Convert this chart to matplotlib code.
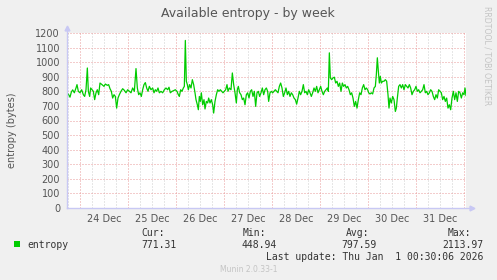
import numpy as np
import matplotlib.pyplot as plt

# hours since 24 Dec 00:00 and entropy readings [bytes]
hours = [
    -6.5, -5.67, -5.0, -4.33, -3.67, -2.83, -2.0, -1.5, -0.83, 0.0, 0.83, 1.67, 2.33, 3.0, 3.67,
    4.17, 4.83, 5.33, 6.0, 6.67, 7.33, 8.0, 8.67, 9.33, 10.0, 11.0, 12.0, 12.67, 13.67, 14.33,
    15.0, 15.67, 16.33, 17.0, 17.67, 18.33, 19.0, 19.67, 20.5, 21.33, 22.17, 23.0, 23.83, 24.67,
    25.5, 26.33, 27.17, 28.0, 28.67, 29.33, 30.0, 30.67, 31.33, 32.0, 32.67, 33.33, 34.0, 34.67,
    35.5, 36.33, 37.0, 37.67, 38.33, 39.0, 39.67, 40.5, 41.33, 42.17, 43.0, 43.83,
    44.5, 45.17, 46.0, 46.83, 47.67, 48.5, 49.17, 49.67, 50.33, 51.0, 51.67, 52.17, 52.67, 53.17,
    53.67, 54.17, 54.83, 55.5, 56.17, 56.83, 57.5, 58.0, 58.67, 59.17, 59.67, 60.17, 60.67, 61.33,
    62.0, 62.5, 63.17, 63.83, 64.33, 65.0, 65.67, 66.33, 66.83, 67.5, 68.17, 68.83, 69.5, 70.17,
    70.83, 71.5, 72.17, 72.83, 73.5, 74.0, 74.67, 75.5, 76.17, 76.83, 77.5, 78.17, 78.67, 79.17,
    79.83, 80.5, 81.17, 81.83, 82.5, 83.17, 83.83, 84.5, 85.17, 85.83, 86.5, 87.17, 87.83, 88.5,
    89.17, 89.83, 90.5, 91.17, 91.83, 92.5, 93.17, 93.83,
    94.33, 95.0, 95.67, 96.33, 97.0, 97.67, 98.33, 99.0, 99.67, 100.33, 101.0, 101.67, 102.33,
    103.0, 103.67, 104.33, 105.0, 105.67, 106.33, 107.0, 107.67, 108.33, 109.0, 109.67, 110.33,
    111.0, 111.67, 112.33, 113.0, 113.67, 114.33, 115.0, 115.67, 116.33, 117.0, 117.67, 118.33,
    119.0, 119.67, 120.33, 121.0, 121.67, 122.33, 123.0, 123.67, 124.17, 124.67, 125.17, 125.83,
    126.5, 127.17, 127.83, 128.5, 129.17, 129.83, 130.5, 131.17, 131.83, 132.5, 133.17, 133.83,
    134.5, 135.17, 135.83, 136.5, 137.17, 137.83, 138.5, 139.17, 139.83, 140.5, 141.17, 141.83,
    142.5, 143.17, 143.83,
    144.33, 145.0, 145.67, 146.33, 147.0, 147.67, 148.17, 148.67, 149.17, 149.67, 150.17, 150.67,
    151.33, 152.0, 152.67, 153.33, 154.0, 154.5, 155.0, 155.67, 156.33, 157.0, 157.67, 158.17,
    158.67, 159.33, 160.0, 160.67, 161.33, 162.0, 162.67, 163.33, 164.0, 164.67, 165.33, 166.0,
    166.67, 167.33, 168.0, 168.67, 169.33, 170.0, 170.67, 171.33, 172.0, 172.67, 173.33, 174.0,
    174.67, 175.33, 176.0, 176.67, 177.33, 178.0, 178.67, 179.33, 180.0, 180.67, 181.33, 182.0,
    182.67, 183.33, 184.0, 184.67, 185.33, 186.0, 186.67, 187.33, 188.0, 188.67, 189.33, 190.0,
    190.67, 191.33, 192.0, 192.5, 193.0,
]
entropy = [
    790, 777, 760, 795, 810, 790, 823, 846, 800, 790, 811, 777, 765, 811, 960,
    800, 765, 823, 811, 800, 743, 790, 811, 777, 857, 846, 834, 850, 841, 846,
    818, 800, 754, 777, 765, 685, 754, 777, 800, 818, 807, 790, 811, 800,
    790, 823, 800, 956, 823, 777, 790, 765, 811, 846, 860, 823, 800, 834,
    811, 823, 790, 811, 800, 823, 790, 800, 790, 811, 823, 811,
    828, 790, 800, 805, 811, 800, 777, 765, 811, 800, 823, 834, 1149, 869,
    846, 811, 846, 823, 880, 846, 790, 743, 708, 674, 765, 731, 790, 708,
    743, 679, 731, 720, 754, 720, 743, 708, 651, 731, 777, 811, 800, 811,
    800, 790, 800, 811, 846, 800, 823, 811, 926, 846, 790, 720, 811, 834,
    790, 777, 743, 754, 708, 777, 790, 754, 800, 811, 765, 800, 697, 790,
    800, 765, 790, 823, 777, 811, 823, 800,
    731, 790, 800, 790, 800, 811, 800, 790, 834, 857, 823, 765, 790,
    823, 777, 800, 765, 790, 777, 754, 743, 712, 754, 800, 777,
    800, 846, 790, 800, 777, 811, 790, 765, 790, 823, 800, 834,
    790, 811, 834, 800, 777, 800, 811, 823, 800, 1064, 892, 880,
    892, 897, 857, 869, 834, 857, 800, 857, 834, 846, 823, 834,
    811, 777, 790, 754, 697, 731, 685, 743, 790, 777, 823, 846,
    811, 823, 811,
    790, 782, 790, 782, 823, 834, 915, 1030, 938, 857, 903, 857,
    869, 869, 880, 869, 777, 685, 754, 720, 765, 743, 662, 685,
    754, 834, 846, 823, 846, 811, 846, 834, 823, 846, 823, 777,
    800, 811, 834, 800, 811, 790, 800, 811, 846, 790, 800, 777,
    790, 811, 800, 765, 743, 777, 754, 811, 800, 790, 743, 765,
    731, 754, 685, 708, 674, 754, 800, 743, 790, 731, 800, 790,
    754, 790, 777, 823, 771,
]

day_labels = ["24 Dec", "25 Dec", "26 Dec", "27 Dec", "28 Dec", "29 Dec", "30 Dec", "31 Dec"]
y_ticks = [0, 100, 200, 300, 400, 500, 600, 700, 800, 900, 1000, 1100, 1200]

stat_names = ["Cur:", "Min:", "Avg:", "Max:"]
stat_values = ["771.31", "448.94", "797.59", "2113.97"]

W, H = 497, 280
fig = plt.figure(figsize=(W / 100, H / 100), dpi=100, facecolor="#f0f0f0")
ax = fig.add_axes([67 / W, 72 / H, 399 / W, 175 / H], facecolor="white")

ax.set_xlim(-6.5, 193)
ax.set_ylim(0, 1200)

dot = (0, (1, 2))
# minor grid every 6 hours
for h in np.arange(-6, 194, 6):
    if h % 24 != 0:
        ax.axvline(h, color="#cfcfcf", lw=0.72, ls=dot, zorder=1)
# major grid: day boundaries and every 100 bytes
for h in np.arange(0, 194, 24):
    ax.axvline(h, color="#e89a9a", lw=0.72, ls=dot, zorder=1)
for v in y_ticks[1:]:
    ax.axhline(v, color="#e89a9a", lw=0.72, ls=dot, zorder=1)

ax.plot(hours, entropy, color="#00cc00", lw=0.9, zorder=3)

for s in ax.spines.values():
    s.set_visible(False)
axis_col = "#c8c8f4"
ax.plot([0, 0], [0, 1.03], color=axis_col, lw=1, transform=ax.transAxes, clip_on=False, zorder=4)
ax.plot([0, 1.015], [0, 0], color=axis_col, lw=1, transform=ax.transAxes, clip_on=False, zorder=4)
ax.plot([0], [1.03], marker="^", ms=3.5, color=axis_col, transform=ax.transAxes, clip_on=False)
ax.plot([1.015], [0], marker=">", ms=3.5, color=axis_col, transform=ax.transAxes, clip_on=False)

ax.set_yticks(y_ticks)
ax.set_yticklabels([str(v) for v in y_ticks])
ax.set_xticks([12 + 24 * i for i in range(len(day_labels))])
ax.set_xticklabels(day_labels)
ax.tick_params(length=0, labelsize=7, labelcolor="#555555")
ax.tick_params(axis="y", pad=5)
ax.tick_params(axis="x", pad=4)

fig.text(248 / W, 1 - 13 / H, "Available entropy - by week", ha="center", va="center",
         fontsize=9, color="#555555")
fig.text(12 / W, 1 - 130 / H, "entropy (bytes)", rotation=90, ha="center", va="center",
         fontsize=7, color="#555555")
fig.text(487 / W, 1 - 56 / H, "RRDTOOL / TOBI OETIKER", rotation=270, ha="center", va="center",
         fontsize=5.6, color="#c4c4c4")
fig.text(249 / W, 1 - 269 / H, "Munin 2.0.33-1", ha="center", va="center",
         fontsize=5.5, color="#c4c4c4")

# legend block
mono = "DejaVu Sans Mono"
fig.patches.append(plt.Rectangle((14 / W, 1 - 247 / H), 6 / W, 6 / H, transform=fig.transFigure,
                                 facecolor="#00cc00", edgecolor="none"))
fig.text(27 / W, 1 - 245 / H, "entropy", ha="left", va="center", family=mono, fontsize=7, color="#333333")
name_x = [141, 243, 346, 448]
value_x = [141, 241, 341, 442]
for nm, val, nx, vx in zip(stat_names, stat_values, name_x, value_x):
    fig.text(nx / W, 1 - 233 / H, nm, ha="left", va="center", family=mono, fontsize=7, color="#333333")
    fig.text(vx / W, 1 - 245 / H, val, ha="left", va="center", family=mono, fontsize=7, color="#333333")
fig.text(483 / W, 1 - 257 / H, "Last update: Thu Jan  1 00:30:06 2026", ha="right", va="center",
         family=mono, fontsize=7, color="#333333")

fig.savefig("out.png", dpi=100, facecolor=fig.get_facecolor())
